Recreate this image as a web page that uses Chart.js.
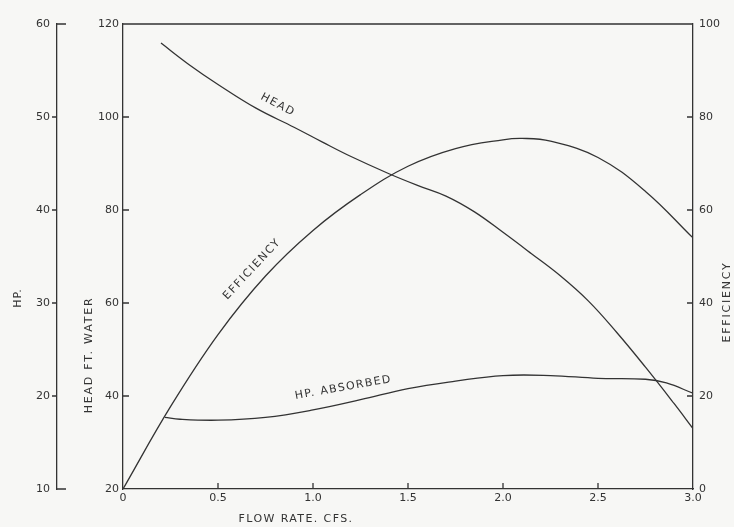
<!DOCTYPE html>
<html>
<head>
<meta charset="utf-8">
<script src="https://cdn.jsdelivr.net/npm/chart.js@4"></script>
<style>
  html, body { margin: 0; padding: 0; background: #f7f7f5; }
  #wrap { width: 734px; height: 527px; }
</style>
</head>
<body>
<div id="wrap"><canvas id="pumpChart"></canvas></div>
<script>
// pump curves
var headFlow = [0.2, 0.35, 0.5, 0.7, 0.9, 1.05, 1.2, 1.4, 1.55, 1.7, 1.85, 2.0, 2.15, 2.3, 2.45, 2.6, 2.75, 2.9, 3.0];
var headFt   = [115.9, 111.2, 107, 101.9, 97.8, 94.6, 91.5, 87.8, 85.3, 83, 79.6, 75.2, 70.6, 65.9, 60.4, 53.6, 46.2, 38.4, 33];

var effFlow = [0, 0.25, 0.5, 0.75, 1.0, 1.25, 1.5, 1.75, 2.0, 2.1, 2.25, 2.5, 2.75, 3.0];
var effPct  = [0, 17.7, 33.2, 45.8, 55.6, 63.3, 69.4, 73.2, 75.1, 75.4, 74.8, 71.3, 64, 54];

var hpFlow = [0.22, 0.3, 0.5, 0.75, 1.0, 1.25, 1.5, 1.75, 2.0, 2.25, 2.5, 2.75, 2.86, 3.0];
var hpAbs  = [17.7, 17.5, 17.4, 17.7, 18.5, 19.6, 20.8, 21.6, 22.2, 22.2, 21.9, 21.8, 21.4, 20.3];

var flowTicks = [0, 0.5, 1.0, 1.5, 2.0, 2.5, 3.0];

var ink = '#333333';
var fontFam = '"DejaVu Sans", sans-serif';

function pts(xs, ys) {
    var out = [];
    for (var i = 0; i < xs.length; i++) out.push({x: xs[i], y: ys[i]});
    return out;
}

function lineSet(label, data, axis) {
    return {
        label: label,
        data: data,
        yAxisID: axis,
        borderColor: ink,
        borderWidth: 1.3,
        pointRadius: 0,
        fill: false,
        tension: 0.4
    };
}

function drawText(ctx, text, x, y, rot, size, spacing) {
    ctx.save();
    ctx.translate(x, y);
    ctx.rotate(rot * Math.PI / 180);
    ctx.font = size + 'px ' + fontFam;
    ctx.letterSpacing = spacing + 'px';
    ctx.fillStyle = ink;
    ctx.textAlign = 'center';
    ctx.textBaseline = 'middle';
    ctx.fillText(text, 0, 0);
    ctx.restore();
}

// inward ticks, top frame line, titles and curve labels
var extras = {
    id: 'extras',
    beforeDraw: function(chart) {
        var ctx = chart.ctx;
        ctx.save();
        ctx.fillStyle = '#f7f7f5';
        ctx.fillRect(0, 0, chart.width, chart.height);
        ctx.restore();
    },
    afterDraw: function(chart) {
        var ctx = chart.ctx;
        var a = chart.chartArea;
        var sx = chart.scales.x, sh = chart.scales.head, sp = chart.scales.hp, se = chart.scales.eff;
        ctx.save();
        ctx.strokeStyle = ink;
        ctx.lineWidth = 1.3;
        ctx.beginPath();
        // top frame
        ctx.moveTo(a.left, a.top);
        ctx.lineTo(a.right, a.top);
        // x ticks pointing up
        sx.ticks.forEach(function(t) {
            if (t.value <= sx.min || t.value >= sx.max) return;
            var px = sx.getPixelForValue(t.value);
            ctx.moveTo(px, a.bottom);
            ctx.lineTo(px, a.bottom - 6);
        });
        // head ticks pointing right
        sh.ticks.forEach(function(t) {
            if (t.value <= sh.min || t.value >= sh.max) return;
            var py = sh.getPixelForValue(t.value);
            ctx.moveTo(a.left, py);
            ctx.lineTo(a.left + 6, py);
        });
        // efficiency ticks pointing left
        se.ticks.forEach(function(t) {
            if (t.value <= se.min || t.value >= se.max) return;
            var py = se.getPixelForValue(t.value);
            ctx.moveTo(a.right, py);
            ctx.lineTo(a.right - 6, py);
        });
        // hp axis ticks and end caps
        sp.ticks.forEach(function(t) {
            var py = sp.getPixelForValue(t.value);
            if (t.value <= sp.min || t.value >= sp.max) {
                ctx.moveTo(sp.right, py);
                ctx.lineTo(sp.right + 9, py);
            } else {
                ctx.moveTo(sp.right - 5, py);
                ctx.lineTo(sp.right, py);
            }
        });
        ctx.stroke();
        ctx.restore();

        // axis titles
        drawText(ctx, 'HP.', 18, 298, -90, 11, 1);
        drawText(ctx, 'HEAD FT. WATER', 89, 355, -90, 11, 1.8);
        drawText(ctx, 'EFFICIENCY', 727, 302, -90, 11, 1.8);
        drawText(ctx, 'FLOW RATE. CFS.', 296, 519, 0, 11, 1.4);

        // curve labels
        drawText(ctx, 'HEAD', sx.getPixelForValue(0.815), sh.getPixelForValue(102.6), 28, 11, 1.5);
        drawText(ctx, 'EFFICIENCY', sx.getPixelForValue(0.68), se.getPixelForValue(47.3), -47, 11, 1.6);
        drawText(ctx, 'HP. ABSORBED', sx.getPixelForValue(1.16), sp.getPixelForValue(20.9), -10, 11, 1.4);
    }
};

var tickFont = { family: fontFam, size: 11 };

const ctx1 = document.getElementById('pumpChart');
var pumpChart = new Chart(ctx1, {
    type: 'line',
    data: {
        datasets: [
            lineSet('HEAD', pts(headFlow, headFt), 'head'),
            lineSet('EFFICIENCY', pts(effFlow, effPct), 'eff'),
            lineSet('HP. ABSORBED', pts(hpFlow, hpAbs), 'hp')
        ]
    },
    options: {
        responsive: true,
        maintainAspectRatio: false,
        animation: false,
        layout: { padding: { top: 24, left: 0, right: 0, bottom: 0 } },
        plugins: {
            legend: { display: false },
            tooltip: { enabled: false }
        },
        scales: {
            x: {
                type: 'linear',
                min: 0, max: 3,
                afterBuildTicks: function(scale) {
                    scale.ticks = flowTicks.map(function(v) { return {value: v}; });
                },
                ticks: {
                    color: ink, font: tickFont, padding: 3, maxRotation: 0,
                    callback: function(v) { return v === 0 ? '0' : v.toFixed(1); }
                },
                grid: { display: false, drawTicks: false },
                border: { display: true, color: ink, width: 1.3 },
                afterFit: function(scale) { scale.height = 38; }
            },
            head: {
                type: 'linear', position: 'left', weight: 0,
                min: 20, max: 120,
                ticks: { stepSize: 20, color: ink, font: tickFont, padding: 4 },
                grid: { display: false, drawTicks: false },
                border: { display: true, color: ink, width: 1.3 },
                afterFit: function(scale) { scale.width = 66; }
            },
            hp: {
                type: 'linear', position: 'left', weight: 1,
                min: 10, max: 60,
                ticks: { stepSize: 10, color: ink, font: tickFont, padding: 7 },
                grid: { display: false, drawTicks: false },
                border: { display: true, color: ink, width: 1.3 },
                afterFit: function(scale) { scale.width = 57; }
            },
            eff: {
                type: 'linear', position: 'right',
                min: 0, max: 100,
                ticks: { stepSize: 20, color: ink, font: tickFont, padding: 6 },
                grid: { display: false, drawTicks: false },
                border: { display: true, color: ink, width: 1.3 },
                afterFit: function(scale) { scale.width = 41; }
            }
        }
    },
    plugins: [extras]
});
</script>
</body>
</html>
